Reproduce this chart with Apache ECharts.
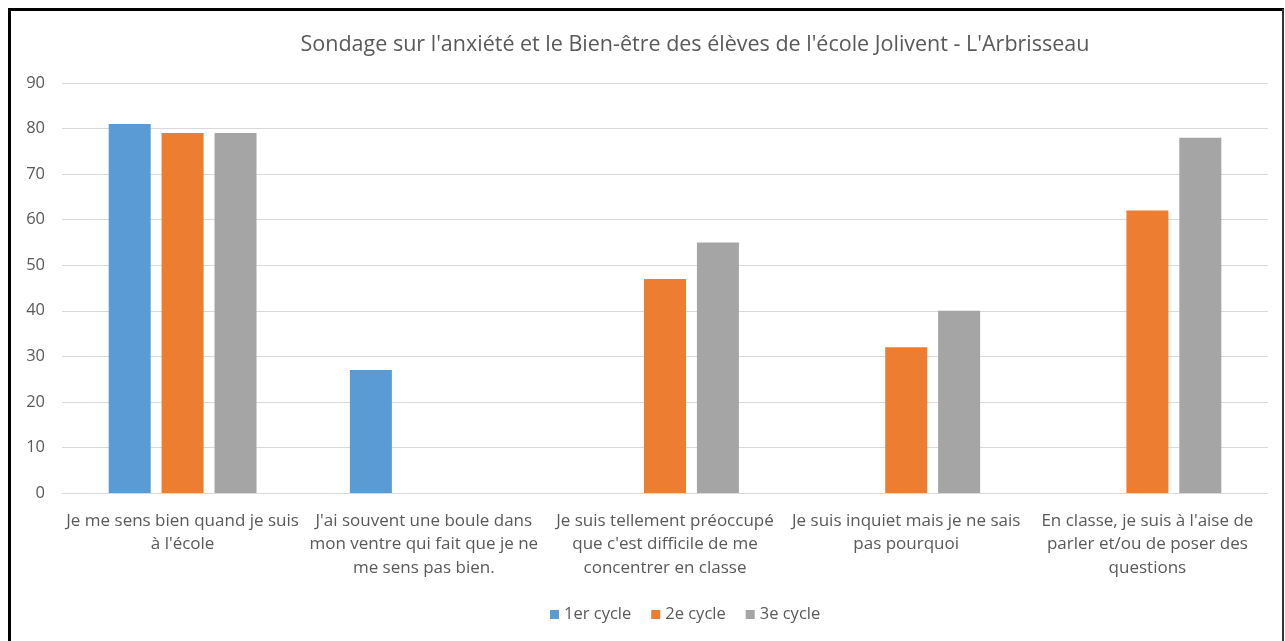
<!DOCTYPE html>
<html>
<head>
<meta charset="utf-8">
<script src="https://cdn.jsdelivr.net/npm/echarts@6/dist/echarts.min.js"></script>
<style>
  html, body { margin: 0; padding: 0; background: #fff; }
  #chart { width: 1285px; height: 641px; }
</style>
</head>
<body>
<div id="chart"></div>
<script>
const title = "Sondage sur l'anxiété et le Bien-être des élèves de l'école Jolivent - L'Arbrisseau";
const categories = [
  "Je me sens bien quand je suis\nà l'école",
  "J'ai souvent une boule dans\nmon ventre qui fait que je ne\nme sens pas bien.",
  "Je suis tellement préoccupé\nque c'est difficile de me\nconcentrer en classe",
  "Je suis inquiet mais je ne sais\npas pourquoi",
  "En classe, je suis à l'aise de\nparler et/ou de poser des\nquestions"
];
const seriesNames = ['1er cycle', '2e cycle', '3e cycle'];
const cycle1 = [81, 27, null, null, null];
const cycle2 = [79, null, 47, 32, 62];
const cycle3 = [79, null, 55, 40, 78];
const colors = ['#5B9BD5', '#ED7D31', '#A5A5A5'];

const font = '"Open Sans", Lato, sans-serif';
const textColor = '#595959';

const chart = echarts.init(document.getElementById('chart'), null, { renderer: 'canvas' });

const makeBar = (name, data, color) => ({
  name,
  type: 'bar',
  data,
  barWidth: 42,
  barGap: '26%',
  itemStyle: { color },
  emphasis: { disabled: true },
});

chart.setOption({
  animation: false,
  backgroundColor: '#fff',
  textStyle: { fontFamily: font },
  title: {
    text: title,
    left: 690,
    top: 29,
    textAlign: 'center',
    textStyle: { fontFamily: font, fontSize: 21.5, fontWeight: 'normal', color: textColor },
  },
  legend: {
    data: seriesNames,
    left: 545,
    top: 601,
    icon: 'rect',
    itemWidth: 9,
    itemHeight: 9,
    itemGap: 20,
    textStyle: { fontFamily: font, fontSize: 16.5, color: textColor },
  },
  grid: { left: 62, right: 17, top: 83, bottom: 148, containLabel: false },
  xAxis: {
    type: 'category',
    data: categories,
    axisLine: { lineStyle: { color: '#D9D9D9', width: 1 } },
    axisTick: { show: false },
    axisLabel: {
      interval: 0,
      margin: 16,
      fontFamily: font,
      fontSize: 17,
      lineHeight: 23.5,
      color: textColor,
    },
  },
  yAxis: {
    type: 'value',
    min: 0,
    max: 90,
    interval: 10,
    axisLine: { show: false },
    axisTick: { show: false },
    splitLine: { lineStyle: { color: '#D9D9D9', width: 1 } },
    axisLabel: { margin: 17, fontFamily: font, fontSize: 16.5, color: textColor },
  },
  series: [
    makeBar(seriesNames[0], cycle1, colors[0]),
    makeBar(seriesNames[1], cycle2, colors[1]),
    makeBar(seriesNames[2], cycle3, colors[2]),
  ],
  graphic: [
    { type: 'line', shape: { x1: 8, y1: 9.5, x2: 1284, y2: 9.5 }, style: { stroke: '#000', lineWidth: 3 } },
    { type: 'line', shape: { x1: 9.5, y1: 8, x2: 9.5, y2: 641 }, style: { stroke: '#000', lineWidth: 3 } },
    { type: 'line', shape: { x1: 1283, y1: 9, x2: 1283, y2: 641 }, style: { stroke: '#333', lineWidth: 2 } },
  ],
});
</script>
</body>
</html>
